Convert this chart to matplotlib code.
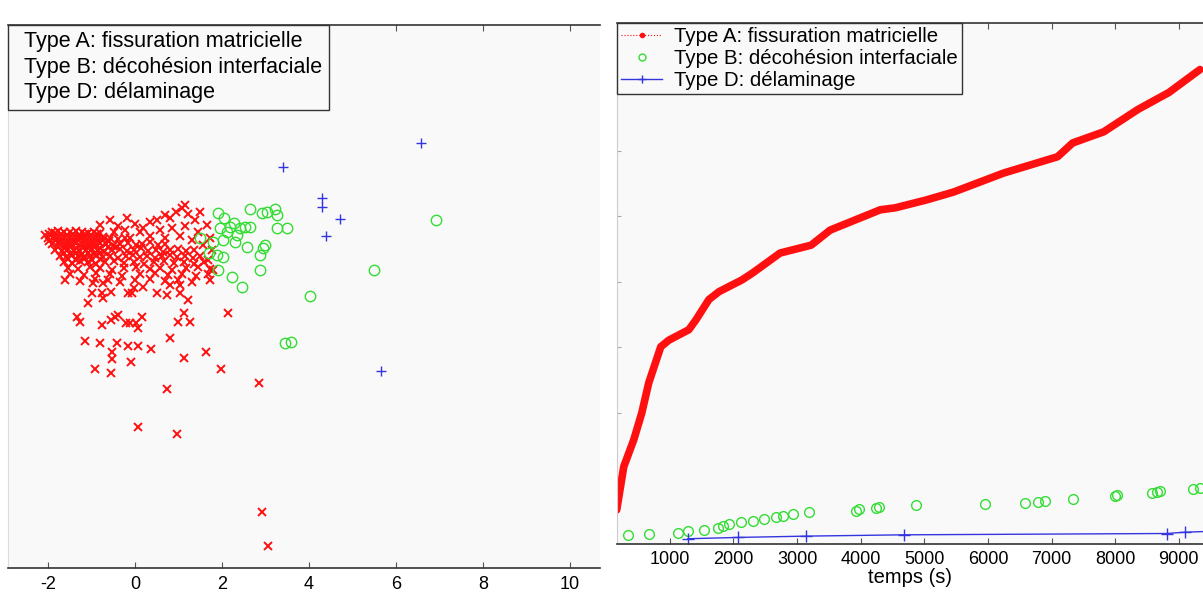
import matplotlib
matplotlib.use("Agg")
import matplotlib.pyplot as plt
from matplotlib.lines import Line2D

plt.rcParams['font.family'] = ['Liberation Sans', 'DejaVu Sans']
plt.rcParams['axes.unicode_minus'] = False

# ---- left panel data (x: feature axis, y: arbitrary units, no labels) ----
# Type A (red x) -- dense cluster rows + scattered points
typeA_pts = [
    (-2.07, 333), (-1.91, 336), (-1.77, 337), (-1.63, 336), (-1.49, 336), (-1.36, 337),
    (-1.22, 336), (-1.08, 335), (-0.94, 336), (-0.80, 335),
    (-2.00, 330), (-1.84, 331), (-1.70, 330), (-1.56, 329), (-1.42, 330), (-1.29, 331),
    (-1.15, 330), (-1.01, 329), (-0.87, 330), (-0.74, 331), (-0.57, 330), (-0.39, 329), (-0.23, 330),
    (-1.91, 324), (-1.77, 325), (-1.63, 323), (-1.49, 324), (-1.36, 325), (-1.22, 324),
    (-1.08, 323), (-0.94, 324), (-0.80, 325), (-0.67, 324), (-0.51, 322), (-0.34, 324),
    (-0.16, 325), (0.02, 323), (0.16, 324), (0.34, 326), (0.53, 323), (0.69, 324),
    (-1.84, 318), (-1.68, 317), (-1.54, 319), (-1.40, 318), (-1.26, 317), (-1.13, 318),
    (-0.99, 319), (-0.85, 318), (-0.71, 316), (-0.53, 318), (-0.34, 319), (-0.18, 317),
    (-0.02, 318), (0.14, 320), (0.30, 317), (0.48, 318), (0.64, 316), (0.80, 318),
    (0.99, 319), (1.17, 317), (1.36, 318),
    (-1.72, 312), (-1.59, 311), (-1.45, 313), (-1.31, 312), (-1.17, 311), (-1.03, 312),
    (-0.90, 313), (-0.74, 311), (-0.57, 312), (-0.39, 310), (-0.21, 312), (-0.05, 313),
    (0.11, 311), (0.28, 312), (0.46, 310), (0.62, 312), (0.80, 313), (0.97, 311),
    (1.15, 312), (1.33, 310), (1.49, 312),
    (-1.63, 306), (-1.45, 305), (-1.26, 307), (-1.08, 306), (-0.90, 304), (-0.69, 306),
    (-0.48, 307), (-0.25, 305), (-0.02, 306), (0.21, 304), (0.44, 306), (0.67, 307),
    (0.90, 305), (1.13, 306), (1.36, 304), (1.59, 306),
    (-1.54, 300), (-1.31, 299), (-1.03, 301), (-0.80, 300), (-0.53, 298), (-0.25, 300),
    (0.02, 301), (0.34, 299), (0.57, 300), (0.85, 298), (1.17, 300), (1.45, 301), (1.72, 299),
    (-1.49, 294), (-1.17, 293), (-0.90, 295), (-0.57, 294), (-0.30, 292), (0.11, 294),
    (0.46, 295), (0.76, 293), (1.08, 294), (1.40, 292), (1.68, 294),
    (-1.61, 288), (-1.26, 287), (-0.92, 289), (-0.62, 288), (-0.34, 286), (0.00, 288),
    (0.34, 289), (0.69, 287), (0.99, 288), (1.31, 286),
    # extra fill of the solid left part of the cluster
    (-1.98, 334), (-1.84, 335), (-1.70, 334), (-1.56, 333), (-1.42, 334), (-1.29, 333),
    (-1.15, 334), (-1.01, 333), (-0.87, 334), (-1.98, 327), (-1.84, 328), (-1.70, 327),
    (-1.56, 326), (-1.42, 327), (-1.29, 328), (-1.15, 327), (-1.01, 326), (-0.87, 327),
    (-0.74, 328), (-0.60, 327), (-1.77, 321), (-1.63, 320), (-1.49, 321), (-1.36, 320),
    (-1.22, 321), (-1.08, 320), (-0.94, 321), (-0.80, 320), (-0.62, 321), (-0.44, 321),
    (-1.63, 315), (-1.49, 314), (-1.36, 315), (-1.22, 314), (-1.08, 315), (-0.94, 314),
    (-0.80, 315), (-1.54, 309), (-1.36, 308), (-1.17, 309), (-0.99, 308), (-0.80, 309),
    # upper scattered
    (-0.80, 343), (-0.57, 348), (-0.39, 342), (-0.18, 350), (0.00, 344), (0.18, 340),
    (0.34, 346), (0.51, 348), (0.69, 353), (0.80, 350), (0.94, 356), (1.08, 360),
    (1.22, 354), (1.38, 348), (1.66, 343), (0.57, 338), (0.85, 340), (1.15, 342),
    (1.45, 336), (1.72, 330), (1.03, 332), (1.31, 328), (1.56, 323), (1.77, 318),
    (1.68, 308), (1.79, 298), (1.72, 288), (0.11, 336), (-0.23, 338), (-0.48, 336),
    (-0.11, 330), (0.34, 332), (0.69, 330), (1.49, 356), (1.15, 363),
    # lower sparse
    (-0.99, 275), (-0.76, 275), (-0.55, 276), (-0.16, 275), (-0.02, 280), (-1.08, 265),
    (-0.74, 270), (0.51, 275), (0.74, 273), (1.03, 275), (0.80, 283), (1.03, 283),
    (1.22, 268), (-1.33, 251), (-1.26, 246), (-0.76, 243), (-0.55, 248), (-0.46, 251),
    (-0.21, 245), (0.02, 245), (0.07, 240), (0.16, 251), (0.99, 246), (1.13, 255),
    (1.26, 246), (2.14, 255), (-1.15, 227), (-0.80, 225), (-0.41, 225), (-0.16, 222),
    (0.07, 222), (0.37, 219), (0.80, 230), (-0.53, 216), (-0.53, 209), (-0.09, 206),
    (1.13, 210), (1.63, 216), (-0.92, 199), (-0.55, 195), (1.98, 199), (0.74, 179),
    (2.85, 185), (0.07, 141), (0.97, 134), (2.92, 56), (3.06, 22),
    (-0.97, 285), (-0.74, 285), (-0.07, 275), (0.18, 281), (-0.39, 253), (-0.11, 245),
]

# Type B (green o)
typeB_x = [1.91, 2.05, 2.64, 2.92, 3.03, 3.22, 3.26, 3.26, 3.49, 2.18, 2.41, 2.64, 1.95,
           2.11, 2.34, 1.49, 1.79, 2.02, 2.30, 2.57, 2.99, 2.94, 2.87, 1.89, 2.02, 2.87,
           1.91, 2.23, 2.46, 4.02, 5.49, 6.92, 3.45, 3.59, 2.53, 2.28, 1.70]
typeB_y = [355, 350, 359, 355, 356, 359, 353, 340, 340, 341, 340, 341, 340,
           336, 333, 330, 326, 328, 326, 321, 323, 320, 313, 313, 311, 298,
           298, 291, 281, 272, 298, 348, 225, 226, 341, 345, 315]

# Type D (blue +)
typeD_x = [6.57, 3.40, 4.30, 4.30, 4.71, 4.39, 5.66]
typeD_y = [425, 401, 370, 361, 349, 332, 197]

# ---- right panel data: cumulative events vs time ----
tA = [165, 276, 433, 559, 669, 858, 984, 1299, 1410, 1614, 1772, 2134, 2307, 2733,
      3221, 3520, 4308, 4544, 5032, 5457, 6245, 7095, 7331, 7820, 8355, 8844, 9332]
nA = [52, 118, 159, 200, 246, 301, 311, 327, 342, 373, 385, 403, 414, 444,
      456, 479, 510, 513, 525, 537, 566, 591, 612, 629, 663, 689, 724]

tB = [339, 669, 1126, 1284, 1536, 1756, 1835, 1929, 2118, 2307, 2480, 2669, 2780, 2937,
      3189, 3929, 3977, 4245, 4292, 4875, 5946, 6576, 6780, 6890, 7331, 7993, 8024,
      8576, 8655, 8702, 9222, 9332]
nB = [14, 15, 17, 20, 21, 24, 27, 30, 34, 35, 38, 41, 42, 46,
      49, 50, 53, 55, 56, 60, 61, 63, 64, 66, 69, 73, 75,
      78, 79, 81, 84, 86]

tD = [1284, 2071, 3142, 4686, 8812, 9096, 9700]
nD = [8, 10, 12, 14, 16, 18, 20]

labels = ['Type A: fissuration matricielle',
          'Type B: décohésion interfaciale',
          'Type D: délaminage']

red = '#ff1010'
green = '#33dd33'
blue = '#3535e0'
bg = '#f9f9f9'

fig = plt.figure(figsize=(12.03, 5.92), dpi=100)
fig.patch.set_facecolor('white')

# left panel
ax1 = fig.add_axes([0.0067, 0.0405, 0.4921, 0.9172])
ax1.set_facecolor(bg)
ax1.plot([p[0] for p in typeA_pts], [p[1] for p in typeA_pts], 'x', color=red, ms=6, mew=1.4)
ax1.plot(typeB_x, typeB_y, 'o', mfc='none', mec=green, ms=7.5, mew=1)
ax1.plot(typeD_x, typeD_y, '+', color=blue, ms=7, mew=1)
ax1.set_xlim(-2.92, 10.69)
ax1.set_ylim(0, 543)
ax1.set_xticks([-2, 0, 2, 4, 6, 8, 10])
ax1.set_yticks([])
ax1.tick_params(axis='x', direction='in', top=True, length=4, labelsize=13, pad=6, color='#555555')
ax1.spines['left'].set_color('#dddddd')
ax1.spines['right'].set_visible(False)
for s in ['top', 'bottom']:
    ax1.spines[s].set_linewidth(1.2)
    ax1.spines[s].set_color('#333333')
h1 = [Line2D([], [], ls='none') for _ in labels]
leg1 = ax1.legend(h1, labels, loc='upper left', borderaxespad=0, handlelength=0,
                  handletextpad=0.45, fontsize=15.5, frameon=True, fancybox=False,
                  labelspacing=0.2, borderpad=0.3)
leg1.get_frame().set_edgecolor('#333333')
leg1.get_frame().set_facecolor(bg)
leg1.get_frame().set_alpha(1)

# right panel
ax2 = fig.add_axes([0.5129, 0.0811, 0.4871, 0.88])
ax2.set_facecolor(bg)
ax2.plot(tA, nA, '-', color=red, lw=5.5, solid_capstyle='round')
ax2.plot(tB, nB, 'o', mfc='none', mec=green, ms=7, mew=1)
ax2.plot(tD, nD, '-+', color=blue, lw=1, ms=8, mew=1)
ax2.set_xlim(170, 9380)
ax2.set_ylim(0, 795)
ax2.set_xticks(range(1000, 10000, 1000))
ax2.set_yticks(range(100, 800, 100))
ax2.set_yticklabels([])
ax2.tick_params(axis='x', direction='in', top=True, length=4, labelsize=13, pad=5, color='#555555')
ax2.tick_params(axis='y', direction='in', length=3, color='#aaaaaa')
ax2.set_xlabel('temps (s)', fontsize=14.5, labelpad=0)
ax2.spines['left'].set_color('#cccccc')
ax2.spines['right'].set_visible(False)
for s in ['top', 'bottom']:
    ax2.spines[s].set_linewidth(1.2)
    ax2.spines[s].set_color('#333333')
h2 = [Line2D([], [], ls=':', lw=0.8, marker='.', color=red, ms=6),
      Line2D([], [], ls='none', marker='o', mfc='none', mec=green, ms=5),
      Line2D([], [], ls='-', lw=1, marker='+', color=blue, ms=6)]
leg2 = ax2.legend(h2, labels, loc='upper left', borderaxespad=0, handlelength=2.0,
                  fontsize=14.7, frameon=True, fancybox=False, labelspacing=0.15,
                  borderpad=0.2, handletextpad=0.6)
leg2.get_frame().set_edgecolor('#333333')
leg2.get_frame().set_facecolor(bg)
leg2.get_frame().set_alpha(1)

fig.savefig('out.png', dpi=100)
